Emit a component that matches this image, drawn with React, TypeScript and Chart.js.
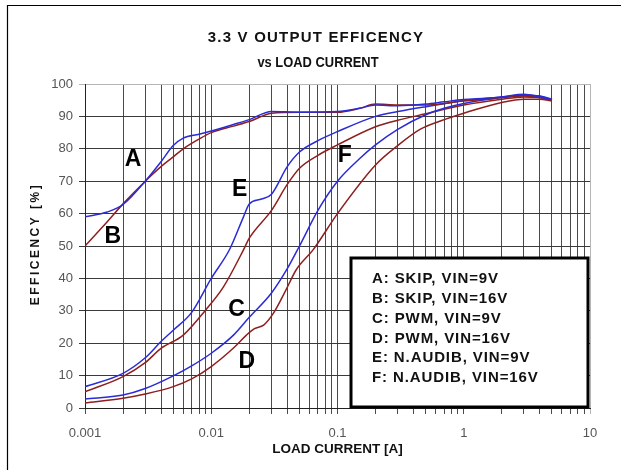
import React, { useEffect, useRef } from 'react';
import { Chart, registerables } from 'chart.js';

Chart.register(...registerables);

// ---------- text ----------
const titleLines = ['3.3 V OUTPUT EFFICENCY', 'vs LOAD CURRENT'];
const xAxisTitle = 'LOAD CURRENT [A]';
const yAxisTitle = 'EFFICENCY [%]';

// ---------- axes ----------
const xDecades = [0.001, 0.01, 0.1, 1, 10];
const xDecadeLabels = ['0.001', '0.01', '0.1', '1', '10'];
const xMinorMultipliers = [1, 2, 3, 4, 5, 6, 7, 8, 9];
const yTickValues = [0, 10, 20, 30, 40, 50, 60, 70, 80, 90, 100];

// ---------- series ----------
const seriesLabels = [
  'A: SKIP, VIN=9V',
  'B: SKIP, VIN=16V',
  'C: PWM, VIN=9V',
  'D: PWM, VIN=16V',
  'E: N.AUDIB, VIN=9V',
  'F: N.AUDIB, VIN=16V',
];
const seriesTags = ['A', 'B', 'C', 'D', 'E', 'F'];
const tagX = [0.0024, 0.00166, 0.0159, 0.0191, 0.0168, 0.114];
const tagY = [76.5, 52.8, 30.2, 14.2, 67.3, 78];

const aX = [0.001, 0.0015, 0.002, 0.003, 0.004, 0.005, 0.006, 0.008, 0.01, 0.015, 0.02, 0.03, 0.05, 0.1, 0.15, 0.2, 0.3, 0.5, 0.7, 1, 1.5, 2, 3, 4, 5];
const aY = [59, 60.5, 62.8, 70, 76, 81, 83.3, 84.5, 85.5, 87.5, 89, 91.5, 91.3, 91.5, 92.5, 93.5, 93.3, 93.8, 94.5, 95.2, 95.6, 96, 96.8, 96, 95.2];

const bX = [0.001, 0.0015, 0.002, 0.003, 0.004, 0.005, 0.006, 0.008, 0.01, 0.015, 0.02, 0.03, 0.05, 0.1, 0.15, 0.2, 0.3, 0.5, 0.7, 1, 1.5, 2, 3, 4, 5];
const bY = [50, 57.5, 63, 70, 74.5, 77.5, 80, 83, 85, 87, 88.4, 91, 91.3, 91.3, 92.5, 93.8, 93.5, 93.5, 94, 94.8, 95.3, 95.8, 96.3, 95.8, 95];

const cX = [0.001, 0.002, 0.003, 0.005, 0.007, 0.01, 0.015, 0.02, 0.03, 0.04, 0.05, 0.07, 0.1, 0.15, 0.2, 0.3, 0.5, 0.7, 1, 2, 3, 4, 5];
const cY = [2.8, 4, 6, 9.9, 13, 16.9, 22.5, 28, 35.5, 43, 50, 61, 70, 77, 81.2, 86, 90.5, 92.5, 94, 95.8, 96.5, 96.2, 95.2];

const dX = [0.001, 0.002, 0.003, 0.005, 0.007, 0.01, 0.015, 0.019, 0.022, 0.026, 0.031, 0.039, 0.047, 0.064, 0.1, 0.2, 0.3, 0.45, 0.7, 1, 2, 3, 4, 5];
const dY = [1.6, 3, 4.3, 6.6, 9, 12.8, 18.5, 22.5, 24.5, 25.6, 29.2, 36.4, 42.6, 48.8, 60, 75, 81, 86, 89, 91, 94.3, 95.3, 95.3, 94.8];

const eX = [0.001, 0.002, 0.003, 0.004, 0.005, 0.007, 0.01, 0.014, 0.018, 0.02, 0.025, 0.03, 0.04, 0.05, 0.07, 0.1, 0.2, 0.3, 0.5, 1, 2, 3, 4, 5];
const eY = [6.6, 10.7, 15.5, 20.5, 24, 29.5, 40, 49, 59, 63, 64.5, 66, 74.5, 79, 82.5, 85.3, 90, 91.5, 93, 94.8, 96, 96.5, 96.3, 95.3];

const fX = [0.001, 0.002, 0.003, 0.004, 0.006, 0.009, 0.0125, 0.018, 0.02, 0.03, 0.04, 0.05, 0.07, 0.1, 0.2, 0.3, 0.5, 1, 2, 3, 4, 5];
const fY = [5, 9.7, 14, 18.4, 22.5, 30.2, 37.4, 48.8, 52.4, 61, 69, 74, 78, 81.2, 86.8, 88.8, 90.8, 93.5, 95.3, 96, 95.8, 95];

const seriesX = [aX, bX, cX, dX, eX, fX];
const seriesY = [aY, bY, cY, dY, eY, fY];
const BLUE = '#2b2bd6';
const BROWN = '#8e1f1f';
const seriesColors = [BLUE, BROWN, BLUE, BROWN, BLUE, BROWN];

const FONT = '"Liberation Sans", Arial, sans-serif';

function near(a: number, b: number) {
  return Math.abs(a - b) / b < 1e-6;
}

const decorPlugin = {
  id: 'decor',
  afterDraw(chart: any) {
    const ctx = chart.ctx as CanvasRenderingContext2D;
    const area = chart.chartArea;
    const xs = chart.scales.x;
    const ys = chart.scales.y;
    ctx.save();

    // frame lines (top and left)
    ctx.strokeStyle = '#000';
    ctx.lineWidth = 1.2;
    ctx.beginPath();
    ctx.moveTo(7, 5.5);
    ctx.lineTo(chart.width, 5.5);
    ctx.moveTo(7.5, 5);
    ctx.lineTo(7.5, chart.height);
    ctx.stroke();

    // title
    ctx.fillStyle = '#111';
    ctx.textAlign = 'center';
    ctx.textBaseline = 'middle';
    ctx.save();
    ctx.font = `bold 15px ${FONT}`;
    (ctx as any).letterSpacing = '1.2px';
    ctx.fillText(titleLines[0], 316, 38);
    ctx.restore();
    ctx.save();
    ctx.translate(318, 63);
    ctx.scale(0.86, 1);
    ctx.font = `bold 15px ${FONT}`;
    ctx.fillText(titleLines[1], 0, 0);
    ctx.restore();

    // x axis title
    ctx.font = `bold 13.5px ${FONT}`;
    ctx.fillText(xAxisTitle, (area.left + area.right) / 2, 449);

    // y axis title
    ctx.save();
    ctx.translate(36, (area.top + area.bottom) / 2 - 2);
    ctx.rotate(-Math.PI / 2);
    ctx.font = `bold 12px ${FONT}`;
    (ctx as any).letterSpacing = '2.5px';
    ctx.fillText(yAxisTitle, 0, 0);
    ctx.restore();

    // curve tags
    ctx.font = `bold 23px ${FONT}`;
    ctx.fillStyle = '#000';
    seriesTags.forEach((t, i) => {
      ctx.fillText(t, xs.getPixelForValue(tagX[i]), ys.getPixelForValue(tagY[i]));
    });

    // legend box
    const lx = area.right - 239;
    const ly = area.top + 174;
    const lw = 237;
    const lh = area.bottom - ly - 1;
    ctx.fillStyle = '#fff';
    ctx.fillRect(lx, ly, lw, lh);
    ctx.strokeStyle = '#000';
    ctx.lineWidth = 3;
    ctx.strokeRect(lx, ly, lw, lh);
    ctx.fillStyle = '#111';
    ctx.textAlign = 'left';
    ctx.save();
    ctx.font = `bold 15px ${FONT}`;
    (ctx as any).letterSpacing = '0.9px';
    seriesLabels.forEach((s, i) => {
      ctx.fillText(s, lx + 21, ly + 21 + i * 19.8);
    });
    ctx.restore();
    ctx.restore();
  },
};

export default function App() {
  const ref = useRef<HTMLCanvasElement>(null);

  useEffect(() => {
    const canvas = ref.current;
    if (!canvas) return;
    const xTicks: number[] = [];
    xDecades.slice(0, -1).forEach((d) => xMinorMultipliers.forEach((m) => xTicks.push(d * m)));
    xTicks.push(xDecades[xDecades.length - 1]);

    const chart = new Chart(canvas, {
      type: 'scatter',
      data: {
        datasets: seriesLabels.map((label, i) => ({
          label,
          data: seriesX[i].map((x, j) => ({ x, y: seriesY[i][j] })),
          showLine: true,
          borderColor: seriesColors[i],
          backgroundColor: seriesColors[i],
          borderWidth: 1.5,
          pointRadius: 0,
          cubicInterpolationMode: 'monotone' as const,
        })),
      },
      options: {
        animation: false,
        responsive: false,
        layout: { padding: { left: 0, top: 84, right: 31, bottom: 0 } },
        plugins: {
          legend: { display: false },
          title: { display: false },
          tooltip: { enabled: false },
        },
        scales: {
          x: {
            type: 'logarithmic',
            min: 0.001,
            max: 10,
            afterBuildTicks: (s: any) => {
              s.ticks = xTicks.map((v) => ({ value: v }));
            },
            afterFit: (s: any) => {
              s.height = 62;
            },
            ticks: {
              autoSkip: false,
              maxRotation: 0,
              padding: 12,
              color: '#555',
              font: { family: FONT, size: 13 },
              callback: (v: any) => {
                const k = xDecades.findIndex((d) => near(Number(v), d));
                return k >= 0 ? xDecadeLabels[k] : '';
              },
            },
            grid: {
              color: (c: any) => (c.tick && near(c.tick.value, 10) ? '#b5b5b5' : '#4a4a4a'),
              lineWidth: 1,
              tickLength: 6,
            },
            border: { display: true, color: '#222', width: 1 },
          },
          y: {
            type: 'linear',
            min: 0,
            max: 100,
            afterBuildTicks: (s: any) => {
              s.ticks = yTickValues.map((v) => ({ value: v }));
            },
            afterFit: (s: any) => {
              s.width = 85;
            },
            ticks: {
              padding: 6,
              color: '#555',
              font: { family: FONT, size: 13 },
            },
            grid: {
              color: (c: any) => (c.tick && c.tick.value === 100 ? '#b5b5b5' : '#3a3a3a'),
              lineWidth: 1,
              tickLength: 6,
            },
            border: { display: true, color: '#222', width: 1 },
          },
        },
      },
      plugins: [decorPlugin],
    });
    return () => chart.destroy();
  }, []);

  return (
    <div style={{ position: 'fixed', left: 0, top: 0, width: 621, height: 470, background: '#fff' }}>
      <canvas ref={ref} width={621} height={470} style={{ display: 'block' }} />
    </div>
  );
}
